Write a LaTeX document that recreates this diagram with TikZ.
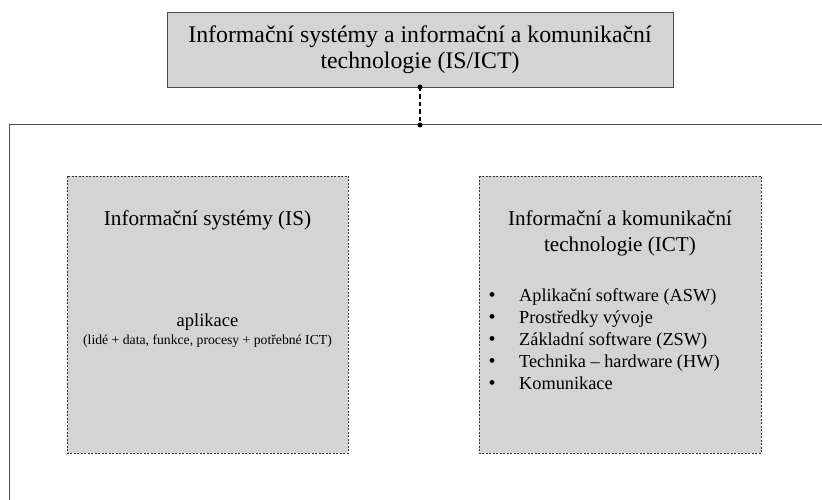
\documentclass[tikz,border=0pt]{standalone}
\usepackage{fontspec}
\setmainfont{Liberation Serif}
\begin{document}
\begin{tikzpicture}[x=1pt,y=-1pt,
  topbox/.style={draw=black!70, line width=0.8pt, fill=black!17},
  subbox/.style={draw=black!80, dashed, dash pattern=on 2pt off 1.5pt, line width=0.6pt, fill=black!17},
  frame/.style={draw=black!70, line width=1pt},
  dotend/.style={circle, fill=black, inner sep=0pt, minimum size=5pt},
  txt/.style={inner sep=0pt, align=center, text=black}
]
\useasboundingbox (0,0) rectangle (822,500);
% top box
\draw[topbox] (167,12) rectangle (673,87);
\node[txt, font=\fontsize{23.8}{26}\selectfont] (top) at (420,50) {Informační systémy a informační a komunikační\\technologie (IS/ICT)};
\coordinate (tb) at (420,87);
\coordinate (hl) at (420,125);
% frame
\draw[frame] (822,125) -- (9,125) -- (9,500);
% connector
\draw[dashed, dash pattern=on 4.5pt off 3pt, line width=1.2pt] (tb) -- (hl);
\node[dotend] at (tb) {};
\node[dotend] at (hl) {};
% left box
\draw[subbox] (67,176) rectangle (348,453);
\node[txt, font=\fontsize{21.2}{26}\selectfont] (istitle) at (207.5,220) {Informační systémy (IS)};
\node[txt, font=\fontsize{18.5}{23}\selectfont] (apl) at (207.5,322) {aplikace};
\node[txt, font=\fontsize{13.7}{16}\selectfont] (aplsub) at (207.5,341) {(lidé + data, funkce, procesy + potřebné ICT)};
% right box
\draw[subbox] (479,176) rectangle (761,453);
\node[txt, font=\fontsize{21.1}{26}\selectfont] (icttitle) at (620,233) {Informační a komunikační\\technologie (ICT)};
\foreach \itm [count=\i] in {Aplikační software (ASW),Prostředky vývoje,Základní software (ZSW),Technika – hardware (HW),Komunikace}{
  \node[txt, anchor=base, font=\fontsize{20}{23}\selectfont] (b\i) at (492,279+22*\i) {•};
  \node[txt, anchor=base west, font=\fontsize{18.3}{23}\selectfont] (l\i) at (519,279+22*\i) {\itm};
}
\end{tikzpicture}
\end{document}
